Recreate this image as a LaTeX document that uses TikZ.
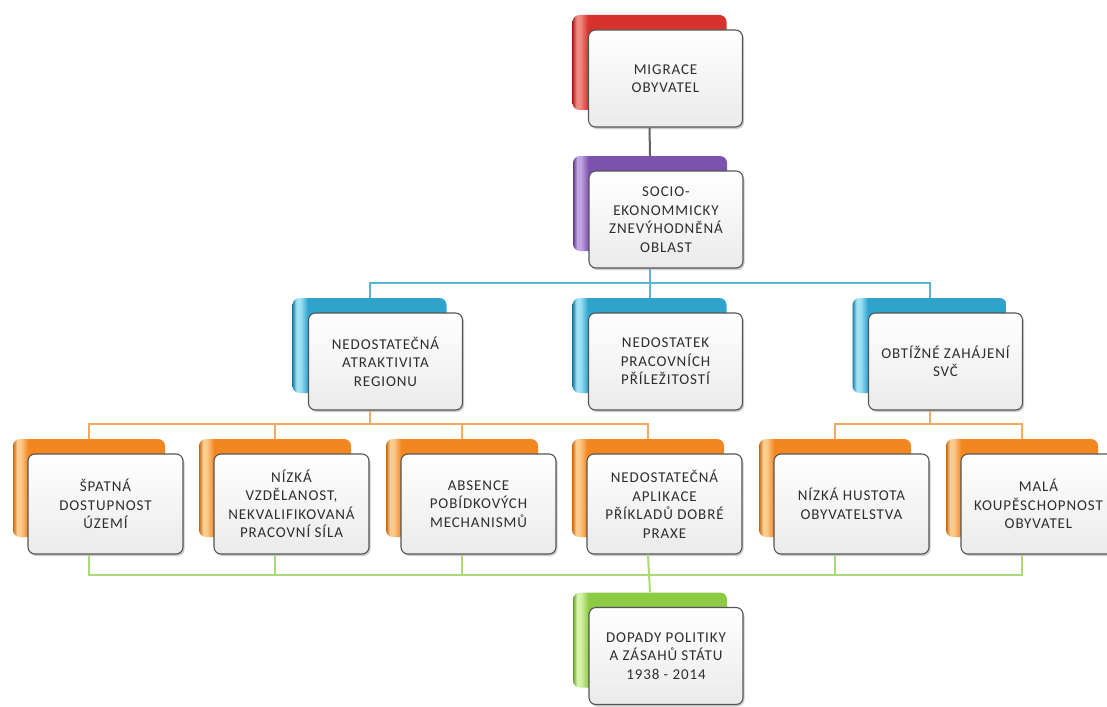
\documentclass[tikz,border=0pt]{standalone}
\usepackage{fontspec}
\setmainfont{Carlito}
\newfontfamily\boxfont[LetterSpace=6]{Carlito}
\usetikzlibrary{shadows,calc}
\definecolor{redD}{HTML}{A82420}\definecolor{redL}{HTML}{F08A80}\definecolor{redM}{HTML}{D8322E}
\definecolor{purD}{HTML}{5C3A85}\definecolor{purL}{HTML}{C0A6E0}\definecolor{purM}{HTML}{7D52AE}
\definecolor{cyaD}{HTML}{1C7FA3}\definecolor{cyaL}{HTML}{A0E2F4}\definecolor{cyaM}{HTML}{2FA3CB}
\definecolor{oraD}{HTML}{C8650E}\definecolor{oraL}{HTML}{FCCB8E}\definecolor{oraM}{HTML}{F2871F}
\definecolor{greD}{HTML}{6BA22A}\definecolor{greL}{HTML}{D4F2A8}\definecolor{greM}{HTML}{8DCB45}
\definecolor{txt}{HTML}{2E2E2E}
\definecolor{frameC}{HTML}{555555}
\pgfdeclarehorizontalshading{redsh}{100bp}{color(0bp)=(redD); color(25bp)=(redD); color(26.3bp)=(redL); color(27.5bp)=(redL); color(30bp)=(redM); color(100bp)=(redM)}
\pgfdeclarehorizontalshading{pursh}{100bp}{color(0bp)=(purD); color(25bp)=(purD); color(26.3bp)=(purL); color(27.5bp)=(purL); color(30bp)=(purM); color(100bp)=(purM)}
\pgfdeclarehorizontalshading{cyash}{100bp}{color(0bp)=(cyaD); color(25bp)=(cyaD); color(26.3bp)=(cyaL); color(27.5bp)=(cyaL); color(30bp)=(cyaM); color(100bp)=(cyaM)}
\pgfdeclarehorizontalshading{orash}{100bp}{color(0bp)=(oraD); color(25bp)=(oraD); color(26.3bp)=(oraL); color(27.5bp)=(oraL); color(30bp)=(oraM); color(100bp)=(oraM)}
\pgfdeclarehorizontalshading{gresh}{100bp}{color(0bp)=(greD); color(25bp)=(greD); color(26.3bp)=(greL); color(27.5bp)=(greL); color(30bp)=(greM); color(100bp)=(greM)}
\tikzset{
  backbox/.style={rectangle, rounded corners=7pt, minimum width=154pt, minimum height=95pt, inner sep=0pt},
  backwide/.style={backbox, minimum width=152pt, minimum height=98pt},
  frontbox/.style={rectangle, rounded corners=7pt, draw=frameC, line width=1.1pt,
    top color=white, bottom color=black!8, minimum width=154pt, minimum height=97pt,
    inner sep=1pt, align=center, font=\boxfont\fontsize{15}{18.5}\selectfont, text=txt,
    drop shadow={shadow xshift=1.5pt, shadow yshift=-2pt, opacity=.4}},
  frontwide/.style={frontbox, minimum width=155pt, minimum height=100pt},
  grayline/.style={draw=black!62, line width=2pt},
  cyanline/.style={draw=cyaM!80, line width=2pt},
  oraline/.style={draw=oraM!72, line width=2pt},
  greline/.style={draw=greM!72, line width=2pt},
}
\begin{document}
\begin{tikzpicture}[x=1pt,y=-1pt]
\useasboundingbox[fill=white] (0,0) rectangle (1107,706);
% row 1
\node[backbox, shading=redsh] (b1) at (649.5,62.5) {};
\node[frontbox] (f1) at ($(b1)+(16,16)$) {MIGRACE\\OBYVATEL};
% row 2
\node[backbox, shading=pursh] (b2) at (650,203.5) {};
\node[frontbox] (f2) at ($(b2)+(16,16)$) {SOCIO-\\EKONOMMICKY\\ZNEVÝHODNĚNÁ\\OBLAST};
% row 3
\node[backbox, shading=cyash] (b3a) at (369.5,345.5) {};
\node[frontbox] (f3a) at ($(b3a)+(16,16)$) {NEDOSTATEČNÁ\\ATRAKTIVITA\\REGIONU};
\node[backbox, shading=cyash] (b3b) at (649.5,345.5) {};
\node[frontbox] (f3b) at ($(b3b)+(16,16)$) {NEDOSTATEK\\PRACOVNÍCH\\PŘÍLEŽITOSTÍ};
\node[backbox, shading=cyash] (b3c) at (929.5,345.5) {};
\node[frontbox] (f3c) at ($(b3c)+(16,16)$) {OBTÍŽNÉ ZAHÁJENÍ\\SVČ};
% row 4
\node[backwide, shading=orash] (b4a) at (89,488) {};
\node[frontwide] (f4a) at ($(b4a)+(16.5,16)$) {ŠPATNÁ\\DOSTUPNOST\\ÚZEMÍ};
\node[backwide, shading=orash] (b4b) at (275,488) {};
\node[frontwide] (f4b) at ($(b4b)+(16.5,16)$) {NÍZKÁ\\VZDĚLANOST,\\NEKVALIFIKOVANÁ\\PRACOVNÍ SÍLA};
\node[backwide, shading=orash] (b4c) at (462,488) {};
\node[frontwide] (f4c) at ($(b4c)+(16.5,16)$) {ABSENCE\\POBÍDKOVÝCH\\MECHANISMŮ};
\node[backwide, shading=orash] (b4d) at (648,488) {};
\node[frontwide] (f4d) at ($(b4d)+(16.5,16)$) {NEDOSTATEČNÁ\\APLIKACE\\PŘÍKLADŮ DOBRÉ\\PRAXE};
\node[backwide, shading=orash] (b4e) at (835,488) {};
\node[frontwide] (f4e) at ($(b4e)+(16.5,16)$) {NÍZKÁ HUSTOTA\\OBYVATELSTVA};
\node[backwide, shading=orash] (b4f) at (1022,488) {};
\node[frontwide] (f4f) at ($(b4f)+(16.5,16)$) {MALÁ\\KOUPĚSCHOPNOST\\OBYVATEL};
% row 5
\node[backbox, shading=gresh] (b5) at (650,640) {};
\node[frontbox] (f5) at ($(b5)+(16,16)$) {DOPADY POLITIKY\\A ZÁSAHŮ STÁTU\\1938 - 2014};
% bus levels
\coordinate (busA) at (0,283);
\coordinate (busB) at (0,424);
\coordinate (busC) at (0,575);
% connectors
\draw[grayline] (f1.south -| b1) -- (b2.north);
\draw[cyanline] (f2.south -| b2) -- (b2 |- busA);
\draw[cyanline] (b3a.north) -- (b3a |- busA) -- (b3c |- busA) -- (b3c.north);
\draw[cyanline] (b3b |- busA) -- (b3b.north);
\draw[oraline] (f3a.south -| b3a) -- (b3a |- busB);
\draw[oraline] (b4a.north) -- (b4a |- busB) -- (b4d |- busB) -- (b4d.north);
\draw[oraline] (b4b |- busB) -- (b4b.north);
\draw[oraline] (b4c |- busB) -- (b4c.north);
\draw[oraline] (f3c.south -| b3c) -- (b3c |- busB);
\draw[oraline] (b4e.north) -- (b4e |- busB) -- (b4f |- busB) -- (b4f.north);
\draw[greline] (f4a.south -| b4a) -- (b4a |- busC) -- (b4f |- busC) -- (f4f.south -| b4f);
\draw[greline] (f4b.south -| b4b) -- (b4b |- busC);
\draw[greline] (f4c.south -| b4c) -- (b4c |- busC);
\draw[greline] (f4e.south -| b4e) -- (b4e |- busC);
\draw[greline] (f4d.south -| b4d) -- (b5.north);
\end{tikzpicture}
\end{document}
